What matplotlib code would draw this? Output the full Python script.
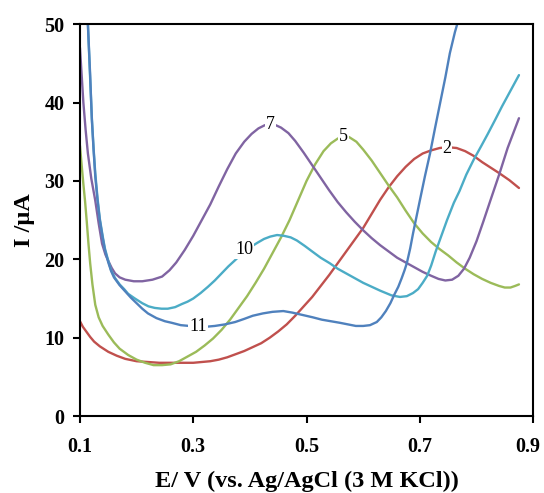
import matplotlib
matplotlib.use('Agg')
import matplotlib.pyplot as plt
from matplotlib.transforms import ScaledTranslation

# Voltammograms, E in V and I in uA
x_2 = [0.100, 0.105, 0.110, 0.118, 0.125, 0.135, 0.150, 0.165, 0.180, 0.200, 0.220, 0.240, 0.260,
       0.280, 0.300, 0.315, 0.330, 0.345, 0.360, 0.375, 0.390, 0.405, 0.420, 0.435, 0.450, 0.465,
       0.480, 0.495, 0.510, 0.525, 0.540, 0.555, 0.570, 0.585, 0.600, 0.615, 0.630, 0.645, 0.660,
       0.675, 0.690, 0.705, 0.720, 0.735, 0.750, 0.765, 0.780, 0.795, 0.810, 0.825, 0.840, 0.858,
       0.875]
y_2 = [12.1, 11.4, 10.9, 10.1, 9.5, 8.9, 8.2, 7.7, 7.3, 7.0, 6.9, 6.8, 6.8,
       6.8, 6.8, 6.9, 7.0, 7.2, 7.5, 7.9, 8.3, 8.8, 9.3, 10.0, 10.8, 11.7,
       12.8, 14.0, 15.2, 16.6, 18.0, 19.5, 21.0, 22.5, 24.0, 25.8, 27.6, 29.2, 30.6,
       31.8, 32.8, 33.5, 33.9, 34.2, 34.3, 34.2, 33.8, 33.2, 32.4, 31.7, 31.0, 30.1,
       29.1]

x_5 = [0.100, 0.103, 0.106, 0.109, 0.112, 0.115, 0.118, 0.122, 0.127, 0.133, 0.140, 0.150, 0.160,
       0.170, 0.185, 0.200, 0.215, 0.230, 0.245, 0.260, 0.275, 0.290, 0.305, 0.320, 0.335, 0.350,
       0.365, 0.380, 0.395, 0.410, 0.425, 0.440, 0.455, 0.470, 0.485, 0.500, 0.515, 0.530, 0.543,
       0.555, 0.565, 0.575, 0.588, 0.600, 0.615, 0.630, 0.645, 0.660, 0.675, 0.690, 0.705, 0.720,
       0.735, 0.750, 0.765, 0.780, 0.795, 0.810, 0.825, 0.840, 0.850, 0.860, 0.868, 0.875]
y_5 = [34.5, 32.0, 29.6, 27.4, 24.8, 22.0, 19.5, 16.8, 14.2, 12.6, 11.5, 10.4, 9.4,
       8.6, 7.8, 7.2, 6.8, 6.5, 6.5, 6.6, 7.0, 7.6, 8.2, 9.0, 9.9, 11.0,
       12.3, 13.8, 15.3, 17.0, 18.8, 20.8, 22.8, 25.0, 27.5, 30.0, 32.1, 33.8, 34.8,
       35.4, 35.7, 35.6, 35.0, 34.0, 32.6, 31.0, 29.4, 27.9, 26.2, 24.6, 23.3, 22.2,
       21.3, 20.5, 19.6, 18.8, 18.1, 17.5, 17.0, 16.6, 16.4, 16.4, 16.6, 16.8]

x_7 = [0.100, 0.103, 0.106, 0.110, 0.114, 0.120, 0.127, 0.133, 0.139, 0.145, 0.150, 0.156, 0.162,
       0.170, 0.180, 0.195, 0.210, 0.228, 0.245, 0.258, 0.270, 0.285, 0.300, 0.315, 0.330, 0.345,
       0.360, 0.375, 0.390, 0.403, 0.415, 0.426, 0.436, 0.446, 0.455, 0.468, 0.480, 0.495, 0.510,
       0.525, 0.540, 0.555, 0.570, 0.585, 0.600, 0.615, 0.630, 0.645, 0.660, 0.675, 0.690, 0.705,
       0.720, 0.733, 0.745, 0.757, 0.768, 0.778, 0.788, 0.800, 0.812, 0.825, 0.840, 0.855, 0.875]
y_7 = [47.0, 43.5, 40.0, 36.5, 33.5, 30.3, 27.5, 24.6, 22.0, 20.6, 19.8, 18.9, 18.2,
       17.7, 17.4, 17.2, 17.2, 17.4, 17.8, 18.6, 19.6, 21.2, 23.0, 25.0, 27.0, 29.3,
       31.5, 33.5, 35.0, 36.0, 36.7, 37.1, 37.2, 37.1, 36.8, 36.1, 35.1, 33.6, 32.0,
       30.4, 28.8, 27.3, 26.0, 24.8, 23.7, 22.7, 21.8, 21.0, 20.2, 19.6, 19.0, 18.4,
       17.9, 17.5, 17.3, 17.4, 17.9, 18.8, 20.2, 22.3, 24.8, 27.6, 30.8, 34.2, 38.0]

x_10 = [0.111, 0.114, 0.118, 0.121, 0.124, 0.127, 0.131, 0.135, 0.140, 0.144, 0.150, 0.155, 0.162,
        0.170, 0.178, 0.185, 0.197, 0.210, 0.221, 0.232, 0.244, 0.255, 0.268, 0.280, 0.290, 0.300,
        0.313, 0.326, 0.338, 0.350, 0.362, 0.374, 0.390, 0.402, 0.413, 0.425, 0.436, 0.448, 0.460,
        0.472, 0.483, 0.497, 0.510, 0.525, 0.541, 0.555, 0.570, 0.585, 0.600, 0.615, 0.630, 0.640,
        0.650, 0.665, 0.677, 0.688, 0.697, 0.705, 0.713, 0.720, 0.728, 0.737, 0.748, 0.760, 0.770,
        0.782, 0.795, 0.808, 0.820, 0.833, 0.845, 0.860, 0.875]
y_10 = [54.0, 50.0, 43.0, 38.0, 34.2, 31.0, 27.8, 25.2, 23.0, 21.4, 19.8, 18.6, 17.6,
        16.8, 16.2, 15.6, 15.0, 14.4, 14.0, 13.8, 13.7, 13.7, 13.9, 14.3, 14.6, 15.0,
        15.7, 16.5, 17.3, 18.2, 19.1, 19.9, 21.0, 21.6, 22.1, 22.6, 22.9, 23.1, 23.0,
        22.8, 22.4, 21.7, 21.0, 20.2, 19.5, 18.8, 18.2, 17.6, 17.0, 16.5, 16.0, 15.7,
        15.4, 15.2, 15.3, 15.7, 16.2, 17.0, 17.9, 19.2, 21.0, 22.8, 25.0, 27.2, 28.7,
        30.8, 32.7, 34.4, 36.0, 37.8, 39.5, 41.5, 43.5]

x_11 = [0.112, 0.114, 0.118, 0.121, 0.124, 0.127, 0.131, 0.135, 0.140, 0.144, 0.150, 0.155, 0.160,
        0.170, 0.180, 0.190, 0.200, 0.210, 0.220, 0.235, 0.250, 0.262, 0.278, 0.293, 0.308, 0.323,
        0.338, 0.356, 0.374, 0.390, 0.405, 0.423, 0.440, 0.459, 0.475, 0.493, 0.511, 0.527, 0.543,
        0.559, 0.573, 0.587, 0.600, 0.612, 0.624, 0.632, 0.640, 0.648, 0.655, 0.662, 0.668, 0.673,
        0.677, 0.683, 0.688, 0.694, 0.700, 0.709, 0.718, 0.727, 0.736, 0.745, 0.753, 0.762, 0.770]
y_11 = [53.0, 50.0, 43.5, 37.8, 34.0, 30.6, 27.5, 25.0, 22.8, 21.2, 19.6, 18.5, 17.7,
        16.7, 15.9, 15.1, 14.4, 13.7, 13.1, 12.5, 12.1, 11.9, 11.6, 11.5, 11.4, 11.4,
        11.5, 11.7, 12.0, 12.4, 12.8, 13.1, 13.3, 13.4, 13.2, 12.9, 12.6, 12.3, 12.1,
        11.9, 11.7, 11.5, 11.5, 11.6, 12.0, 12.6, 13.4, 14.4, 15.5, 16.5, 17.6, 18.6,
        19.5, 21.4, 23.3, 25.4, 27.5, 30.6, 33.5, 36.8, 40.0, 43.2, 46.3, 49.0, 51.0]

labels = ['2', '5', '7', '10', '11']
label_pos = [(0.748, 34.2), (0.565, 35.7), (0.436, 37.2), (0.390, 21.2), (0.308, 11.4)]
colors = ['#C0504D', '#9BBB59', '#8064A2', '#4BACC6', '#4F81BD']

plt.rcParams['font.family'] = 'Liberation Serif'

fig = plt.figure(figsize=(5.44, 4.93), dpi=100)
ax = fig.add_axes([0.147, 0.156, 0.833, 0.795])

series = [(x_2, y_2), (x_5, y_5), (x_7, y_7), (x_10, y_10), (x_11, y_11)]
for (xs, ys), c in zip(series, colors):
    ax.plot(xs, ys, color=c, lw=1.7, solid_capstyle='round', solid_joinstyle='round')

# numbers sit on the curves with a white patch, like excel data labels
for lab, (lx, ly) in zip(labels, label_pos):
    ax.text(lx, ly, lab, fontsize=13, ha='center', va='center',
            bbox=dict(boxstyle='square,pad=0.05', fc='white', ec='none'))

ax.set_xlim(0.1, 0.9)
ax.set_ylim(0, 50)
ax.set_xticks([0.1, 0.3, 0.5, 0.7, 0.9])
ax.set_yticks([0, 10, 20, 30, 40, 50])
ax.tick_params(direction='out', length=5, width=1.5, labelsize=14.5)
ax.tick_params(axis='x', pad=10)
ax.tick_params(axis='y', pad=6)
for t in ax.get_xticklabels() + ax.get_yticklabels():
    t.set_fontweight('bold')
for s in ax.spines.values():
    s.set_linewidth(1.5)

# last x label sits right at the figure edge, nudge it in a little
last = ax.get_xticklabels()[-1]
last.set_transform(last.get_transform() + ScaledTranslation(-4 / 72, 0, fig.dpi_scale_trans))

ax.set_xlabel('E/ V (vs. Ag/AgCl (3 M KCl))', fontsize=17.5, fontweight='bold', labelpad=10)
ax.set_ylabel('I /μA', fontsize=17.5, fontweight='bold', labelpad=7)

fig.savefig('out.png', dpi=100)
